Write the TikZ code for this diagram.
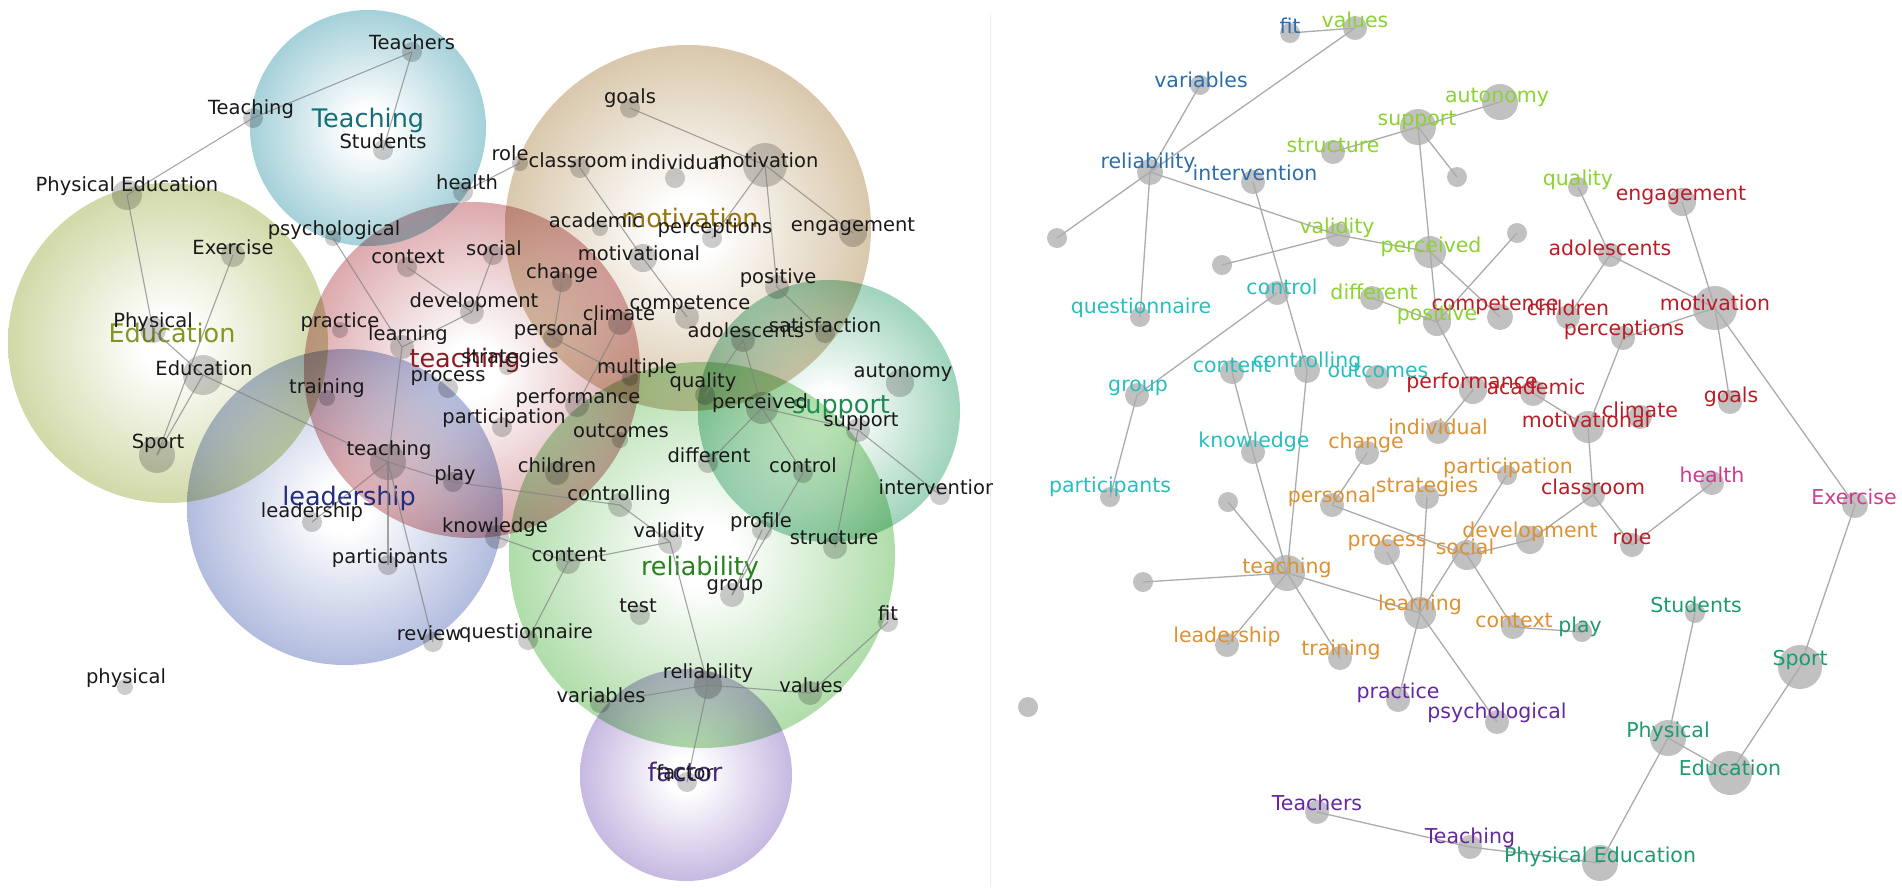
\documentclass[tikz,border=0pt]{standalone}
\usepackage{fontspec}
\setmainfont{DejaVu Sans}
\definecolor{cTeach}{RGB}{100,175,190}
\definecolor{cEdu}{RGB}{175,190,105}
\definecolor{cLead}{RGB}{122,140,198}
\definecolor{cteach}{RGB}{195,108,114}
\definecolor{cMot}{RGB}{190,160,112}
\definecolor{cSup}{RGB}{90,180,138}
\definecolor{cRel}{RGB}{118,196,108}
\definecolor{cFac}{RGB}{158,134,204}
\definecolor{tBlue}{RGB}{45,110,170}
\definecolor{tLime}{RGB}{140,210,50}
\definecolor{tCyan}{RGB}{40,190,190}
\definecolor{tRed}{RGB}{185,30,40}
\definecolor{tOrange}{RGB}{220,145,50}
\definecolor{tPink}{RGB}{205,60,140}
\definecolor{tPurple}{RGB}{100,40,160}
\definecolor{tGreen}{RGB}{30,155,110}
\colorlet{bubcol}{cTeach}
\pgfdeclareradialshading[bubcol]{bubble}{\pgfpoint{0bp}{0bp}}{color(0bp)=(white); color(4bp)=(white); color(30bp)=(bubcol!72!white); color(50bp)=(bubcol); color(72bp)=(bubcol)}
\newcommand\bub[4]{\colorlet{bubcol}{#4}\shade[shading=bubble,blend mode=multiply] (#1,#2) circle[radius=#3];}
\makeatletter
\def\lablistL{}
\def\lablistR{}
\newcommand\LN[7]{\node[ldot,minimum size=#4pt] (#1) at (#2,#3) {};\g@addto@macro\lablistL{\node[ltxt] (#1t) at (#5,#6) {#7};}}
\newcommand\RN[8]{\node[rdot,minimum size=#4pt] (#1) at (#2,#3) {};\g@addto@macro\lablistR{\node[rtxt,text=#8] (#1t) at (#5,#6) {#7};}}
\makeatother
\tikzset{
  ldot/.style={circle,inner sep=0pt,fill=black,fill opacity=0.2},
  ltxt/.style={inner sep=0pt,text=black!90,font=\fontsize{19.5}{20}\selectfont},
  rdot/.style={circle,inner sep=0pt,fill=black!27,fill opacity=0.9},
  rtxt/.style={inner sep=0pt,font=\fontsize{20.5}{21}\selectfont},
  blabel/.style={inner sep=0pt,font=\fontsize{25.5}{26}\selectfont},
  ledge/.style={draw=black!50,line width=1.1pt,draw opacity=0.7},
  redge/.style={draw=black!33,line width=1.3pt},
}
\begin{document}
\begin{tikzpicture}[x=1pt,y=-1pt]
\useasboundingbox (0,0) rectangle (1902,887);
\draw[black!8,line width=0.8pt] (990,15) -- (990,887);
% ================= LEFT PANEL =================
\begin{scope}
\clip (0,0) rectangle (992,887);
\bub{368}{128}{118}{cTeach}
\bub{168}{343}{160}{cEdu}
\bub{688}{228}{183}{cMot}
\bub{345}{507}{158}{cLead}
\bub{472}{370}{168}{cteach}
\bub{829}{411}{131}{cSup}
\bub{702}{555}{193}{cRel}
\bub{686}{775}{106}{cFac}
\node[blabel,text={rgb,255:red,20;green,110;blue,120}] (BTeaching) at (368,120) {Teaching};
\node[blabel,text={rgb,255:red,130;green,150;blue,40}] (BEducation) at (172,333) {Education};
\node[blabel,text={rgb,255:red,140;green,25;blue,35}] (Bteaching) at (465,360) {teaching};
\node[blabel,text={rgb,255:red,150;green,118;blue,20}] (Bmotivation) at (690,218) {motivation};
\node[blabel,text={rgb,255:red,30;green,140;blue,80}] (Bsupport) at (841,407) {support};
\node[blabel,text={rgb,255:red,35;green,45;blue,125}] (Bleadership) at (349,498) {leadership};
\node[blabel,text={rgb,255:red,40;green,130;blue,30}] (Breliability) at (700,568) {reliability};
\node[blabel,text={rgb,255:red,70;green,40;blue,120}] (Bfactor) at (685,772) {factor};
\LN{LTeaching}{253}{118}{20}{251}{109}{Teaching}
\LN{LTeachers}{412}{52}{20}{412}{42}{Teachers}
\LN{LStudents}{383}{150}{20}{383}{141}{Students}
\LN{LPhysEd}{127}{195}{30}{127}{186}{Physical Education}
\LN{LExercise}{233}{255}{24}{233}{247}{Exercise}
\LN{LPhysical}{153}{330}{26}{153}{322}{Physical}
\LN{LEducation}{203}{375}{40}{204}{368}{Education}
\LN{LSport}{157}{455}{36}{158}{443}{Sport}
\LN{Lphysical}{125}{687}{16}{126}{678}{physical}
\LN{Lrole}{520}{163}{16}{510}{153}{role}
\LN{Lclassroom}{580}{168}{20}{578}{160}{classroom}
\LN{Lindividual}{675}{178}{20}{678}{162}{individual}
\LN{Lmotivation}{765}{165}{44}{766}{160}{motivation}
\LN{Lgoals}{630}{108}{20}{630}{98}{goals}
\LN{Lhealth}{463}{192}{20}{467}{182}{health}
\LN{Lpsych}{333}{238}{16}{334}{230}{psychological}
\LN{Lcontext}{407}{267}{20}{408}{257}{context}
\LN{Lsocial}{493}{255}{20}{494}{248}{social}
\LN{Lacademic}{600}{228}{16}{596}{220}{academic}
\LN{Lperceptions}{712}{238}{20}{715}{228}{perceptions}
\LN{Lengagement}{853}{233}{28}{853}{227}{engagement}
\LN{Lmotivational}{643}{258}{28}{639}{253}{motivational}
\LN{Lchange}{562}{282}{20}{562}{273}{change}
\LN{Lpositive}{777}{287}{24}{778}{278}{positive}
\LN{Ldevelopment}{472}{312}{24}{474}{302}{development}
\LN{Lpractice}{340}{330}{16}{340}{322}{practice}
\LN{Llearning}{402}{347}{24}{408}{335}{learning}
\LN{Lpersonal}{553}{338}{20}{556}{330}{personal}
\LN{Lclimate}{620}{323}{24}{619}{313}{climate}
\LN{Lcompetence}{687}{317}{24}{690}{305}{competence}
\LN{Ladolescents}{743}{340}{24}{746}{330}{adolescents}
\LN{Lsatisfaction}{825}{333}{20}{825}{325}{satisfaction}
\LN{Lstrategies}{507}{367}{16}{510}{358}{strategies}
\LN{Lmultiple}{630}{378}{16}{637}{368}{multiple}
\LN{Lprocess}{448}{388}{20}{448}{378}{process}
\LN{Ltraining}{327}{398}{16}{327}{388}{training}
\LN{Lperformance}{577}{405}{24}{578}{398}{performance}
\LN{Lquality}{705}{395}{20}{703}{382}{quality}
\LN{Lautonomy}{900}{383}{28}{903}{373}{autonomy}
\LN{Lperceived}{762}{408}{32}{760}{403}{perceived}
\LN{Lsupport}{858}{430}{24}{861}{422}{support}
\LN{Lparticipation}{502}{427}{20}{504}{418}{participation}
\LN{Loutcomes}{620}{440}{16}{621}{431}{outcomes}
\LN{Lteaching}{388}{462}{36}{389}{450}{teaching}
\LN{Lplay}{453}{482}{20}{455}{475}{play}
\LN{Lchildren}{557}{473}{24}{557}{465}{children}
\LN{Ldifferent}{708}{463}{20}{709}{455}{different}
\LN{Lcontrol}{803}{473}{20}{803}{465}{control}
\LN{Lcontrolling}{620}{505}{24}{619}{495}{controlling}
\LN{Lintervention}{940}{495}{20}{938}{487}{intervention}
\LN{Lleadership}{312}{522}{20}{312}{512}{leadership}
\LN{Lknowledge}{497}{537}{24}{495}{527}{knowledge}
\LN{Lvalidity}{670}{542}{24}{669}{532}{validity}
\LN{Lprofile}{762}{530}{20}{761}{522}{profile}
\LN{Lstructure}{835}{547}{24}{834}{538}{structure}
\LN{Lparticipants}{388}{565}{20}{390}{558}{participants}
\LN{Lcontent}{568}{562}{24}{569}{555}{content}
\LN{Lgroup}{732}{595}{24}{735}{587}{group}
\LN{Ltest}{640}{615}{20}{638}{606}{test}
\LN{Lreview}{433}{642}{20}{429}{633}{review}
\LN{Lquestionnaire}{528}{640}{20}{526}{633}{questionnaire}
\LN{Lfit}{888}{622}{20}{888}{613}{fit}
\LN{Lreliability}{708}{685}{28}{708}{673}{reliability}
\LN{Lvariables}{600}{703}{20}{601}{695}{variables}
\LN{Lvalues}{810}{693}{24}{811}{685}{values}
\LN{Lfactor}{687}{782}{20}{685}{772}{factor}
\foreach \a/\b in {LTeaching/LTeachers,LTeaching/LPhysEd,LTeachers/LStudents,LPhysEd/LPhysical,LPhysical/LEducation,LExercise/LSport,LEducation/LSport,LEducation/Lteaching,Lhealth/Lrole,Lclassroom/Lmotivational,Lpsych/Llearning,Lgoals/Lmotivation,Lmotivation/Lperceptions,Lmotivation/Lengagement,Lmotivation/Lpositive,Lpositive/Lsatisfaction,Lmotivational/Lcompetence,Ladolescents/Lquality,Ladolescents/Lperceived,Lperceived/Lsupport,Lperceived/Ldifferent,Lperceived/Lcontrol,Lsupport/Lstructure,Lsupport/Lintervention,Lcontrol/Lgroup,Lprofile/Lgroup,Lvalidity/Lcontrolling,Lvalidity/Lcontent,Lvalidity/Lreliability,Lfit/Lvalues,Lvalues/Lreliability,Lreliability/Lvariables,Lreliability/Lfactor,Lcontent/Lquestionnaire,Lteaching/Lplay,Lteaching/Lparticipants,Lteaching/Lreview,Lteaching/Lleadership,Lteaching/Llearning,Lplay/Lcontrolling,Lknowledge/Lcontent,Lsocial/Ldevelopment,Lcontext/Ldevelopment,Lchange/Lpersonal,Llearning/Ldevelopment,Lpersonal/Lmultiple,Lperformance/Lclimate}
  \draw[ledge] (\a.center) -- (\b.center);
\lablistL
\end{scope}
% ================= RIGHT PANEL =================
\RN{Rfit}{1290}{33}{20}{1290}{26}{fit}{tBlue}
\RN{Rvalues}{1355}{28}{24}{1355}{20}{values}{tLime}
\RN{Rvariables}{1200}{85}{20}{1201}{80}{variables}{tBlue}
\RN{Rautonomy}{1500}{102}{36}{1497}{97}{autonomy}{tLime}
\RN{Rsupport}{1418}{127}{36}{1417}{120}{support}{tLime}
\RN{Rstructure}{1333}{152}{24}{1333}{145}{structure}{tLime}
\RN{Rreliability}{1150}{172}{26}{1148}{163}{reliability}{tBlue}
\RN{Rintervention}{1253}{182}{24}{1255}{173}{intervention}{tBlue}
\node[rdot,minimum size=20pt] (Rd1) at (1457,177) {};
\RN{Rquality}{1578}{187}{20}{1578}{180}{quality}{tLime}
\RN{Rengagement}{1682}{202}{28}{1681}{195}{engagement}{tRed}
\RN{Rvalidity}{1338}{235}{24}{1337}{228}{validity}{tLime}
\node[rdot,minimum size=20pt] (Rd2) at (1057,238) {};
\node[rdot,minimum size=20pt] (Rd3) at (1517,233) {};
\RN{Rperceived}{1430}{252}{32}{1431}{247}{perceived}{tLime}
\RN{Radolescents}{1610}{255}{24}{1610}{248}{adolescents}{tRed}
\node[rdot,minimum size=20pt] (Rd4) at (1222,265) {};
\RN{Rcontrol}{1277}{293}{24}{1282}{287}{control}{tCyan}
\RN{Rdifferent}{1372}{298}{24}{1374}{292}{different}{tLime}
\RN{Rmotivation}{1715}{308}{44}{1715}{303}{motivation}{tRed}
\RN{Rquestionnaire}{1140}{317}{20}{1141}{308}{questionnaire}{tCyan}
\RN{Rcompetence}{1500}{317}{26}{1495}{305}{competence}{tRed}
\RN{Rchildren}{1568}{317}{24}{1568}{308}{children}{tRed}
\RN{Rpositive}{1437}{322}{28}{1437}{315}{positive}{tLime}
\RN{Rperceptions}{1623}{338}{24}{1624}{330}{perceptions}{tRed}
\RN{Rcontent}{1232}{372}{24}{1232}{365}{content}{tCyan}
\RN{Rcontrolling}{1307}{370}{26}{1307}{362}{controlling}{tCyan}
\RN{Routcomes}{1377}{377}{24}{1378}{370}{outcomes}{tCyan}
\RN{Rgroup}{1137}{395}{24}{1138}{388}{group}{tCyan}
\RN{Rperformance}{1473}{390}{28}{1472}{383}{performance}{tRed}
\RN{Racademic}{1533}{393}{26}{1536}{387}{academic}{tRed}
\RN{Rgoals}{1730}{402}{24}{1731}{397}{goals}{tRed}
\RN{Rclimate}{1640}{417}{24}{1640}{410}{climate}{tRed}
\RN{Rmotivational}{1588}{427}{32}{1586}{420}{motivational}{tRed}
\RN{Rindividual}{1438}{432}{24}{1438}{427}{individual}{tOrange}
\RN{Rknowledge}{1253}{452}{24}{1254}{442}{knowledge}{tCyan}
\RN{Rchange}{1367}{453}{24}{1366}{443}{change}{tOrange}
\RN{Rparticipation}{1507}{475}{20}{1508}{468}{participation}{tOrange}
\RN{Rhealth}{1712}{483}{24}{1712}{475}{health}{tPink}
\RN{Rparticipants}{1110}{497}{20}{1110}{487}{participants}{tCyan}
\RN{Rclassroom}{1593}{495}{24}{1593}{487}{classroom}{tRed}
\RN{Rstrategies}{1427}{497}{24}{1427}{487}{strategies}{tOrange}
\node[rdot,minimum size=20pt] (Rd5) at (1228,502) {};
\RN{Rpersonal}{1332}{505}{24}{1332}{497}{personal}{tOrange}
\RN{RExercise}{1855}{505}{26}{1854}{497}{Exercise}{tPink}
\RN{Rdevelopment}{1530}{540}{28}{1530}{532}{development}{tOrange}
\RN{Rrole}{1632}{545}{24}{1632}{537}{role}{tRed}
\RN{Rprocess}{1387}{552}{26}{1387}{543}{process}{tOrange}
\RN{Rsocial}{1467}{555}{30}{1465}{547}{social}{tOrange}
\RN{Rteaching}{1287}{573}{36}{1287}{568}{teaching}{tOrange}
\node[rdot,minimum size=20pt] (Rd6) at (1143,582) {};
\RN{Rlearning}{1420}{613}{32}{1420}{605}{learning}{tOrange}
\RN{RStudents}{1695}{613}{20}{1696}{605}{Students}{tGreen}
\RN{Rcontext}{1513}{627}{24}{1514}{620}{context}{tOrange}
\RN{Rplay}{1582}{632}{20}{1580}{627}{play}{tGreen}
\RN{Rleadership}{1227}{645}{24}{1227}{637}{leadership}{tOrange}
\RN{Rtraining}{1340}{658}{24}{1341}{650}{training}{tOrange}
\RN{RSport}{1800}{667}{44}{1800}{660}{Sport}{tGreen}
\RN{Rpractice}{1398}{700}{24}{1398}{693}{practice}{tPurple}
\node[rdot,minimum size=20pt] (Rd7) at (1028,707) {};
\RN{Rpsych}{1497}{722}{24}{1497}{713}{psychological}{tPurple}
\RN{RPhysical}{1668}{738}{36}{1668}{732}{Physical}{tGreen}
\RN{REducation}{1730}{773}{44}{1730}{768}{Education}{tGreen}
\RN{RTeachers}{1317}{812}{24}{1317}{803}{Teachers}{tPurple}
\RN{RTeaching}{1470}{847}{24}{1470}{838}{Teaching}{tPurple}
\RN{RPhysEd}{1600}{863}{36}{1600}{857}{Physical Education}{tGreen}
\foreach \a/\b in {Rfit/Rvalues,Rvalues/Rreliability,Rreliability/Rvariables,Rreliability/Rd2,Rreliability/Rquestionnaire,Rreliability/Rvalidity,Rintervention/Rcontrolling,Rvalidity/Rd4,Rvalidity/Rperceived,Rcontrol/Rgroup,Rgroup/Rparticipants,Rcontent/Rknowledge,Rknowledge/Rteaching,Rcontrolling/Rteaching,Rd5/Rteaching,Rd6/Rteaching,Rleadership/Rteaching,Rteaching/Rtraining,Rteaching/Rlearning,Rsupport/Rautonomy,Rsupport/Rstructure,Rsupport/Rd1,Rsupport/Rpositive,Rpositive/Rperformance,Rperceived/Rcompetence,Rd3/Rpositive,Rdifferent/Rpositive,Rquality/Radolescents,Radolescents/Rchildren,Radolescents/Rmotivation,Rengagement/Rmotivation,Rmotivation/Rperceptions,Rmotivation/Rgoals,Rmotivation/RExercise,Rperceptions/Rmotivational,Racademic/Rmotivational,Rperformance/Rindividual,Rchange/Rpersonal,Rpersonal/Rsocial,Rstrategies/Rlearning,Rparticipation/Rlearning,Rsocial/Rdevelopment,Rsocial/Rcontext,Rdevelopment/Rclassroom,Rclassroom/Rrole,Rrole/Rhealth,Rclassroom/Rmotivational,Rlearning/Rpractice,Rlearning/Rpsych,Rprocess/Rlearning,Rcontext/Rplay,RTeachers/RTeaching,RTeaching/RPhysEd,RPhysEd/RPhysical,RPhysical/RStudents,RPhysical/REducation,REducation/RSport,RSport/RExercise}
  \draw[redge] (\a.center) -- (\b.center);
\lablistR
\end{tikzpicture}
\end{document}
